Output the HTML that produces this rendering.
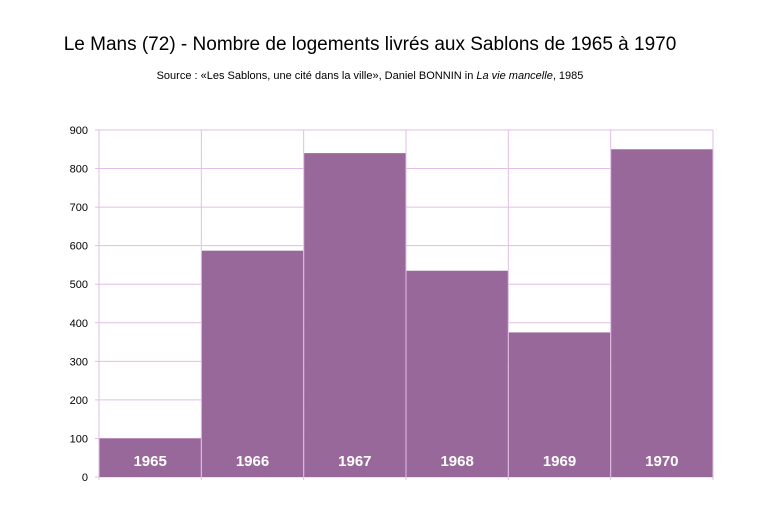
<!DOCTYPE html>
<html><head><meta charset="utf-8"><style>
body{margin:0;background:#fff;width:768px;height:512px;overflow:hidden;font-family:"Liberation Sans",sans-serif}
</style></head><body>
<svg width="768" height="512">
<text x="370" y="50" text-anchor="middle" font-size="19" fill="#000">Le Mans (72) - Nombre de logements livrés aux Sablons de 1965 à 1970</text>
<text x="370" y="79" text-anchor="middle" font-size="11" fill="#000">Source : «Les Sablons, une cité dans la ville», Daniel BONNIN in <tspan font-style="italic">La vie mancelle</tspan>, 1985</text>
<g id="grid"></g><g id="bars"></g><g id="labels"></g>
</svg>
<script>
const categories=["1965","1966","1967","1968","1969","1970"];
const values=[100,587,840,535,375,850];
const yTicks=[0,100,200,300,400,500,600,700,800,900];
const X0=99,X1=713,Y0=477,Y1=130,YMAX=900;
const cw=(X1-X0)/categories.length;
const y=v=>Y0-(v/YMAX)*(Y0-Y1);
const xs=i=>X0+i*cw;
const NS="http://www.w3.org/2000/svg";
function mk(tag,attrs,parent){const e=document.createElementNS(NS,tag);for(const k in attrs)e.setAttribute(k,attrs[k]);document.getElementById(parent).appendChild(e);return e;}
yTicks.forEach(t=>{
  const l=mk("line",{x1:95,x2:X1,y1:y(t),y2:y(t),stroke:"#e2bde6","stroke-width":1},"grid");
  
  
  const tx=mk("text",{x:88,y:y(t)+4,"text-anchor":"end","font-size":11,fill:"#000"},"grid");
  tx.textContent=t;
  
  
});
for(let i=0;i<=categories.length;i++){
  const l=mk("line",{x1:xs(i),x2:xs(i),y1:Y1,y2:Y0+3,stroke:"#e2bde6","stroke-width":1},"grid");
  
  
}
categories.forEach((c,i)=>{
  const r=mk("rect",{x:xs(i)+0.5,y:y(values[i]),width:cw-1,height:Y0-y(values[i]),fill:"#98689a"},"bars");
  
  
  const t=mk("text",{x:xs(i)+cw/2,y:466,"text-anchor":"middle","font-size":15,"font-weight":"bold",fill:"#fff"},"labels");
  t.textContent=c;
  
  
});
</script>
</body></html>
